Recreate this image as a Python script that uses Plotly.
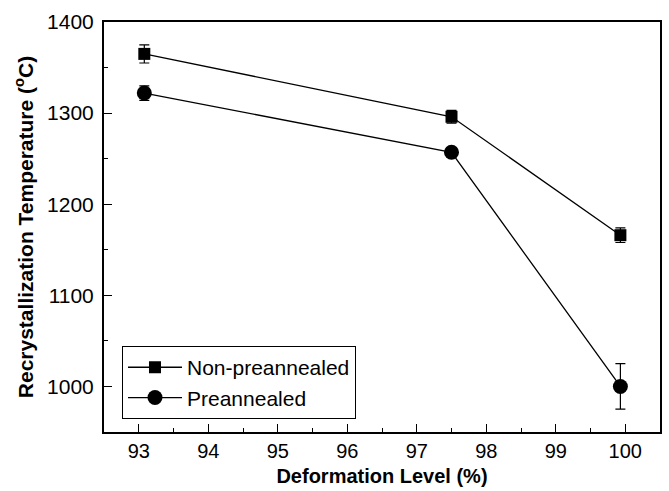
import plotly.graph_objects as go

deformation = [93.08, 97.5, 99.93]
non_pre = [1365, 1296, 1166]
non_pre_err = [10, 7, 8]
pre = [1322, 1257, 1000]
pre_err = [8, 4, 25]

x_ticks = [93, 94, 95, 96, 97, 98, 99, 100]
y_ticks = [1000, 1100, 1200, 1300, 1400]

font_family = "Liberation Sans, Arial, sans-serif"

fig = go.Figure()
fig.add_trace(go.Scatter(
    x=deformation, y=non_pre, name="Non-preannealed", mode="lines+markers",
    line=dict(color="black", width=1.3),
    marker=dict(symbol="square", size=12, color="black"),
    error_y=dict(type="data", array=non_pre_err, visible=True, color="black", thickness=1.2, width=5),
))
fig.add_trace(go.Scatter(
    x=deformation, y=pre, name="Preannealed", mode="lines+markers",
    line=dict(color="black", width=1.3),
    marker=dict(symbol="circle", size=15, color="black"),
    error_y=dict(type="data", array=pre_err, visible=True, color="black", thickness=1.2, width=5),
))

fig.update_layout(
    width=669, height=491,
    margin=dict(l=104, r=7, t=22, b=59),
    paper_bgcolor="white", plot_bgcolor="white",
    font=dict(family=font_family, color="black"),
    showlegend=True,
    legend=dict(
        x=0.032, y=0.21, xanchor="left", yanchor="top",
        bordercolor="black", borderwidth=1.2, bgcolor="white",
        font=dict(size=21, family=font_family),
        tracegroupgap=0, itemwidth=54,
    ),
    xaxis=dict(
        range=[92.5, 100.5], tickvals=x_ticks, ticktext=[str(v) for v in x_ticks],
        ticks="inside", ticklen=8, tickwidth=1.3, tickcolor="black",
        minor=dict(ticks="inside", ticklen=4, tickwidth=1.3, tickcolor="black", dtick=0.5),
        showline=True, linecolor="black", linewidth=2, mirror=True,
        showgrid=False, zeroline=False,
        tickfont=dict(size=20, family=font_family),
        title=dict(text="<b>Deformation Level (%)</b>", font=dict(size=20, family=font_family), standoff=8),
    ),
    yaxis=dict(
        range=[950, 1400], tickvals=y_ticks, ticktext=[str(v) for v in y_ticks],
        ticks="inside", ticklen=8, tickwidth=1.3, tickcolor="black",
        minor=dict(ticks="inside", ticklen=4, tickwidth=1.3, tickcolor="black", dtick=50),
        showline=True, linecolor="black", linewidth=2, mirror=True,
        showgrid=False, zeroline=False,
        tickfont=dict(size=21, family=font_family),
        ticklabelstandoff=4,
        title=dict(text="<b>Recrystallization Temperature (<sup>o</sup>C)</b>", font=dict(size=21, family=font_family), standoff=8),
    ),
)

fig.write_html("out.html")
